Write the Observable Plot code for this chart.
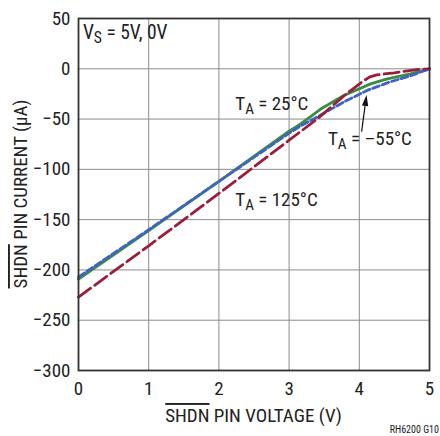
<!DOCTYPE html>
<html>
<head>
<meta charset="utf-8">
<script src="https://cdn.jsdelivr.net/npm/d3@7"></script>
<script src="https://cdn.jsdelivr.net/npm/@observablehq/plot@0.6"></script>
<style>
  html, body { margin: 0; padding: 0; background: #fff; }
  #chart { width: 440px; height: 436px; }
</style>
</head>
<body>
<div id="chart"></div>
<script>
// ---- data ----
const xTicks = [0, 1, 2, 3, 4, 5];
const yTicks = [-300, -250, -200, -150, -100, -50, 0, 50];

const voltage25 = [0, 1, 2, 3, 3.16, 3.45, 3.78, 4.16, 4.4, 4.73, 5];
const current25 = [-209, -161, -112, -62, -55, -40, -26.5, -15, -10, -5, 0];

const voltageM55 = [0, 1, 2, 3, 3.16, 3.45, 3.78, 4.11, 4.44, 4.73, 5];
const currentM55 = [-207, -160, -112, -64, -57, -46, -33, -21.5, -13, -7, 0];

const voltage125 = [0, 1, 2, 3, 3.4, 3.78, 4.04, 4.15, 4.25, 4.5, 4.85, 5];
const current125 = [-227, -176, -124, -71, -50, -27, -13, -8, -6, -4, -0.5, 0];

const xLabel = ["SHDN", " PIN VOLTAGE (V)"];
const yLabel = ["SHDN", " PIN CURRENT (µA)"];
const footnote = "RH6200 G10";

// annotation anchors in data units
const annVs = {x: 0.07, y: 29, main: "V", sub: "S", rest: " = 5V, 0V"};
const ann25 = {x: 2.24, y: -41.5, main: "T", sub: "A", rest: " = 25°C"};
const annM55 = {x: 3.56, y: -76, main: "T", sub: "A", rest: " = –55°C"};
const ann125 = {x: 2.24, y: -137, main: "T", sub: "A", rest: " = 125°C"};
const arrowFrom = {x: 4.04, y: -63};
const arrowTo = {x: 4.11, y: -26.5};

const toRows = (xs, ys) => xs.map((v, i) => ({v, c: ys[i]}));
const rows25 = toRows(voltage25, current25);
const rowsM55 = toRows(voltageM55, currentM55);
const rows125 = toRows(voltage125, current125);

const FONT = "'Liberation Sans Narrow', 'Arial Narrow', 'Roboto Condensed', 'Liberation Sans', Arial, sans-serif";

const svg = Plot.plot({
  width: 440,
  height: 436,
  marginLeft: 78,
  marginRight: 11,
  marginTop: 18,
  marginBottom: 66,
  style: {fontFamily: FONT, fontSize: "19px", color: "#222", background: "#fff"},
  x: {domain: [0, 5], ticks: xTicks, label: null},
  y: {domain: [-300, 50], ticks: yTicks, label: null},
  marks: [
    Plot.gridX(xTicks, {stroke: "#8c8c8c", strokeOpacity: 1, strokeWidth: 1}),
    Plot.gridY(yTicks, {stroke: "#8c8c8c", strokeOpacity: 1, strokeWidth: 1}),
    Plot.line(rows25, {x: "v", y: "c", stroke: "#3a8c40", strokeWidth: 2.8}),
    Plot.line(rowsM55, {x: "v", y: "c", stroke: "#3e63c2", strokeWidth: 2.8, strokeDasharray: "7,3"}),
    Plot.line(rows125, {x: "v", y: "c", stroke: "#9b1c3c", strokeWidth: 2.8, strokeDasharray: "15,5"}),
    Plot.frame({stroke: "#333", strokeWidth: 1.8}),
    Plot.axisX(xTicks, {tickSize: 0, tickPadding: 11, fontSize: 19, label: null}),
    Plot.axisY(yTicks, {tickSize: 0, tickPadding: 8, fontSize: 19, label: null})
  ]
});

const sx = svg.scale("x").apply;
const sy = svg.scale("y").apply;
const g = d3.select(svg).append("g").attr("font-family", FONT).attr("fill", "#222").attr("text-anchor", "start");

function subLabel(a, size) {
  const t = g.append("text").attr("x", sx(a.x)).attr("y", sy(a.y)).attr("font-size", size).attr("text-anchor", "start");
  t.append("tspan").text(a.main);
  t.append("tspan").attr("dy", 4).attr("font-size", size * 0.8).text(a.sub);
  t.append("tspan").attr("dy", -4).text(a.rest);
}
subLabel(annVs, 19.5);
subLabel(ann25, 19);
subLabel(annM55, 19);
subLabel(ann125, 19);

// arrow
const ax0 = sx(arrowFrom.x), ay0 = sy(arrowFrom.y), ax1 = sx(arrowTo.x), ay1 = sy(arrowTo.y);
const ang = Math.atan2(ay1 - ay0, ax1 - ax0);
const hl = 11, hw = 3.2;
const bx = ax1 - hl * Math.cos(ang), by = ay1 - hl * Math.sin(ang);
g.append("line").attr("x1", ax0).attr("y1", ay0).attr("x2", bx).attr("y2", by)
  .attr("stroke", "#111").attr("stroke-width", 1.2);
g.append("path")
  .attr("d", `M${ax1},${ay1}L${bx + hw * Math.sin(ang)},${by - hw * Math.cos(ang)}L${bx - hw * Math.sin(ang)},${by + hw * Math.cos(ang)}Z`)
  .attr("fill", "#111");

// axis titles with overlined SHDN
const cx = (sx(0) + sx(5)) / 2;
const xt = g.append("text").attr("x", cx).attr("y", 422).attr("text-anchor", "middle").attr("font-size", 19);
xt.append("tspan").style("text-decoration", "overline").text(xLabel[0]);
xt.append("tspan").text(xLabel[1]);

const cy = (sy(50) + sy(-300)) / 2;
const yt = g.append("text").attr("transform", `translate(27,${cy}) rotate(-90)`).attr("text-anchor", "middle").attr("font-size", 19);
yt.append("tspan").style("text-decoration", "overline").text(yLabel[0]);
yt.append("tspan").text(yLabel[1]);

g.append("text").attr("x", 439).attr("y", 433).attr("text-anchor", "end").attr("font-size", 10).text(footnote);

document.getElementById("chart").appendChild(svg);
</script>
</body>
</html>
